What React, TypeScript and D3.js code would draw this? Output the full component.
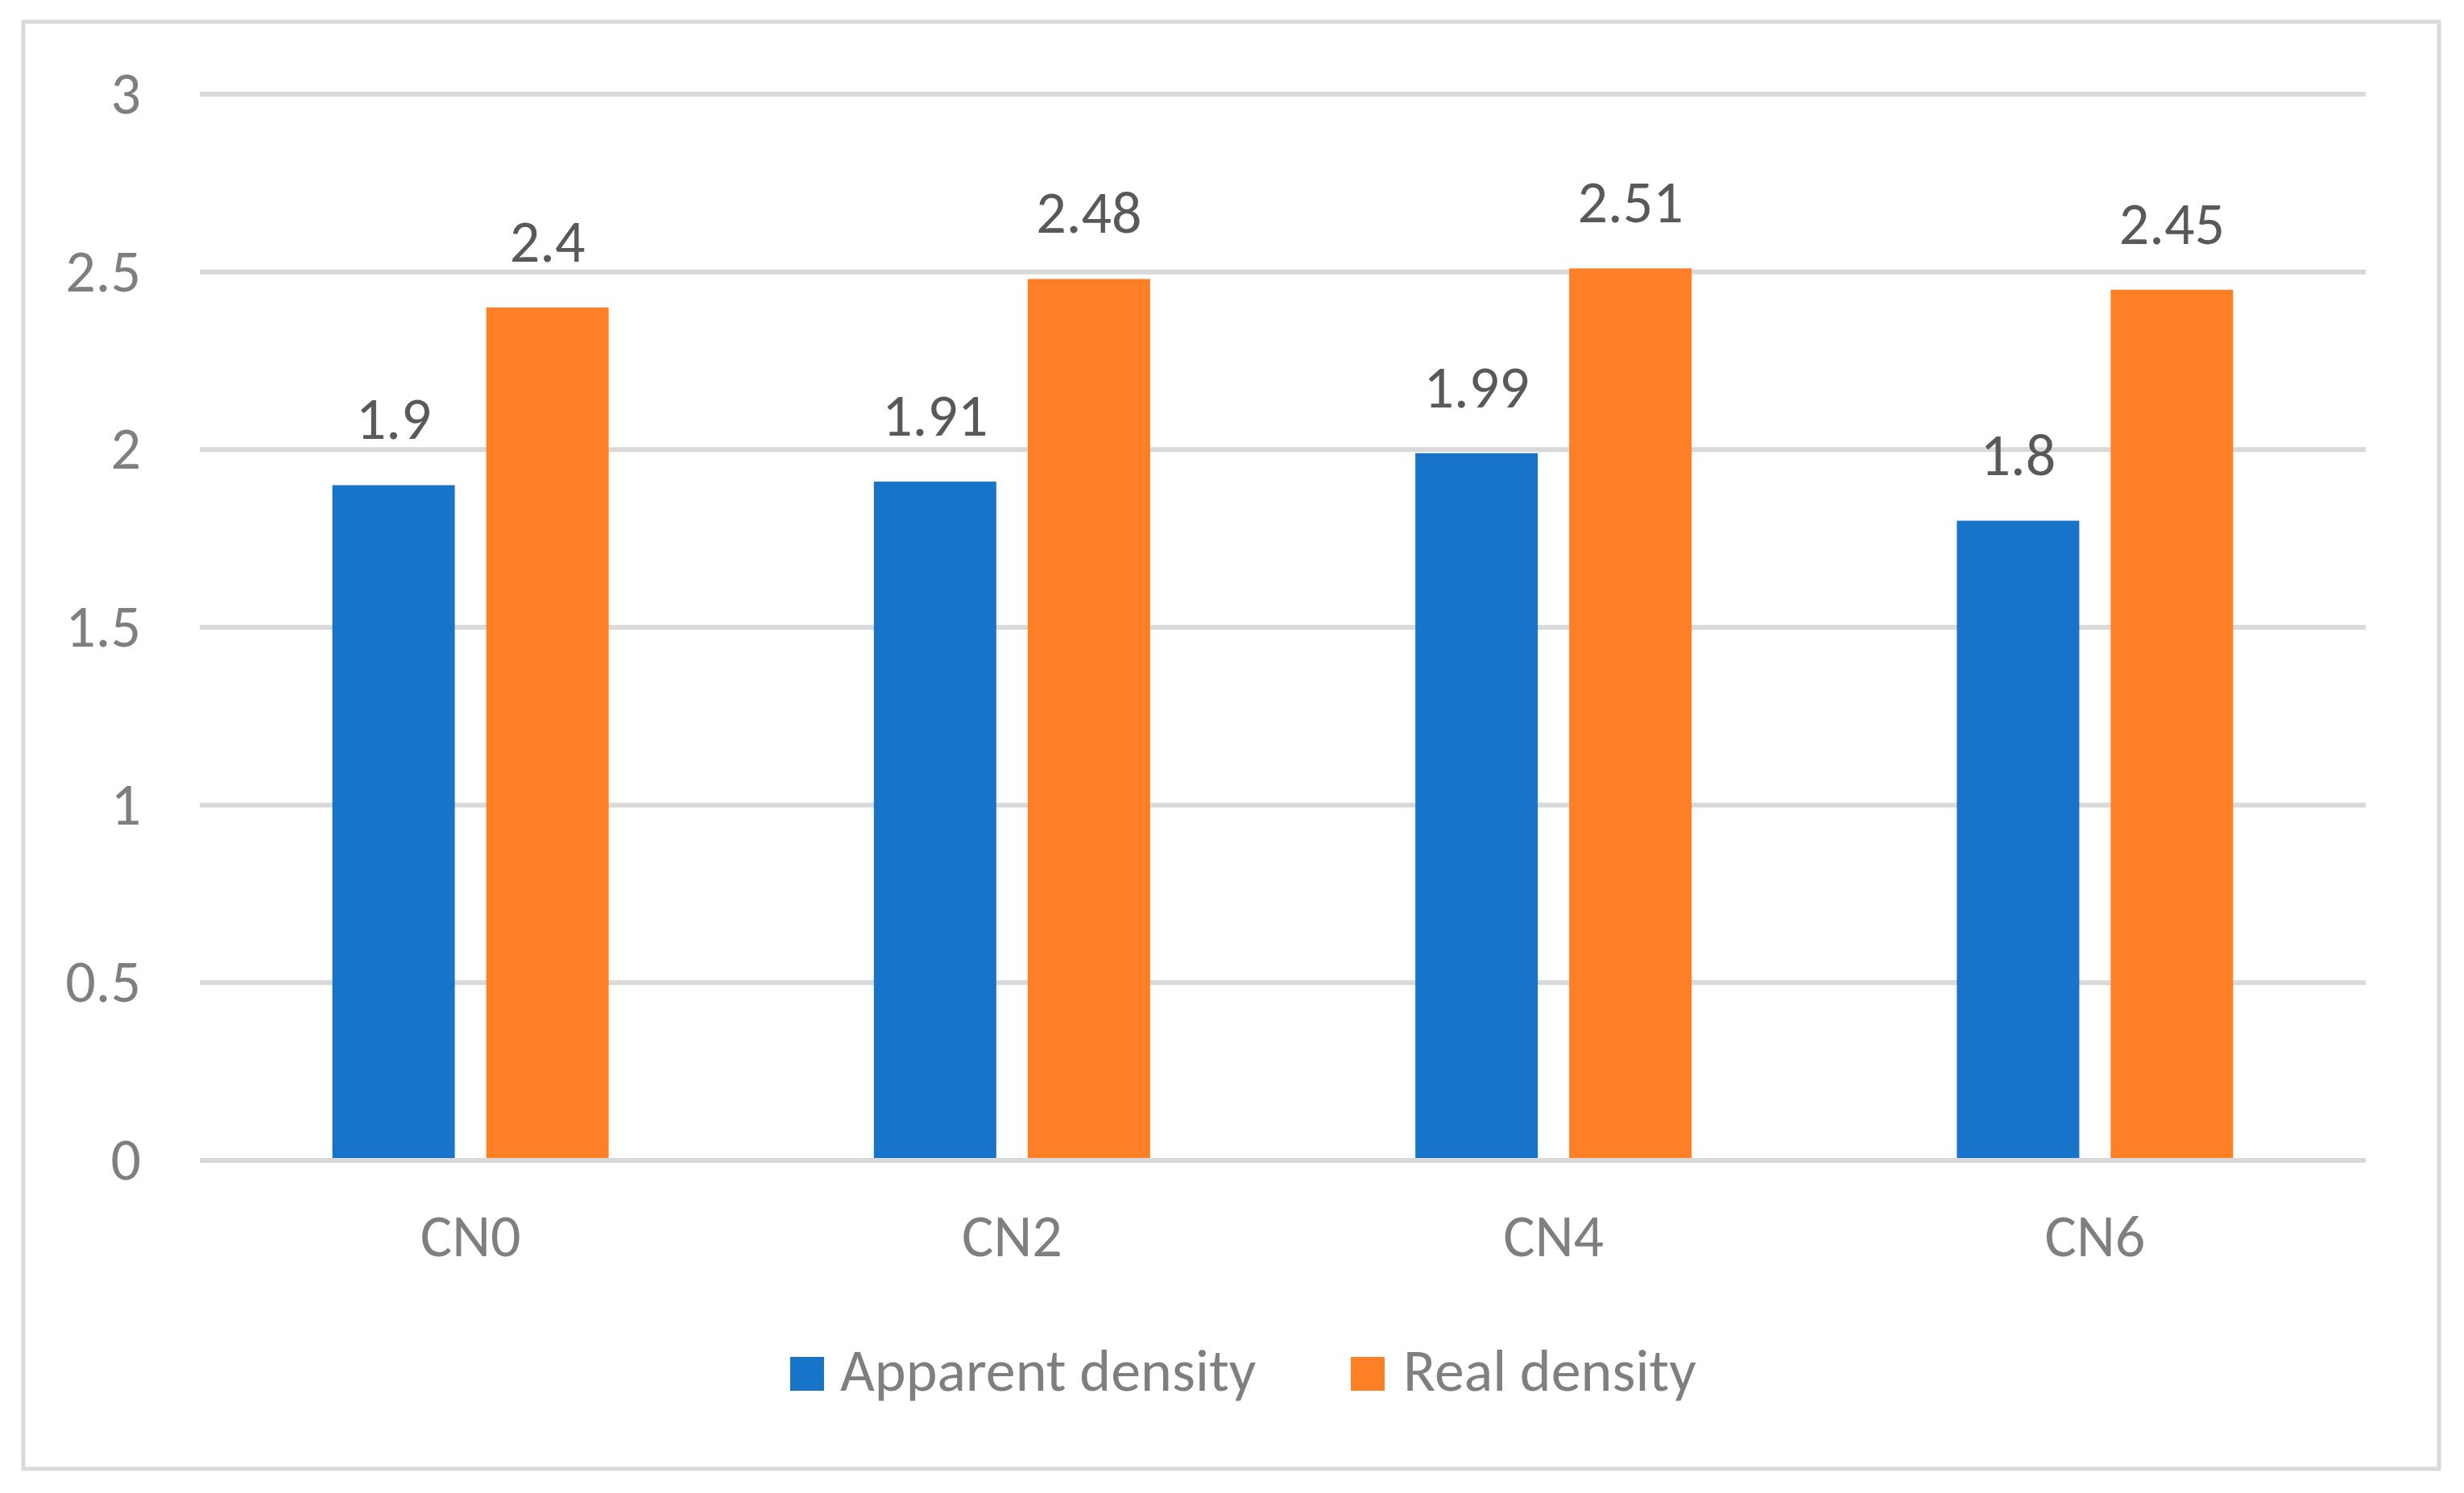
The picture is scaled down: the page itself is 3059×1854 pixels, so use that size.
import React from "react";
import * as d3 from "d3";

const categories = ["CN0", "CN2", "CN4", "CN6"];
const seriesNames = ["Apparent density", "Real density"];
const apparentDensity = [1.9, 1.91, 1.99, 1.8];
const realDensity = [2.4, 2.48, 2.51, 2.45];
const yTicks = [0, 0.5, 1, 1.5, 2, 2.5, 3];
const colors = ["#1874C9", "#FF7F27"];

const W = 3059;
const H = 1854;
const FONT = "Carlito, Lato, sans-serif";
const FS = 74;

export default function App() {
  const x0 = d3.scaleBand<string>().domain(categories).range([248, 2937]).paddingInner(0).paddingOuter(0);
  const y = d3.scaleLinear().domain([0, 3]).range([1441, 117]);
  const series = [apparentDensity, realDensity];
  const barW = 152;
  const gap = 39;
  const x1 = d3
    .scaleOrdinal<number, number>()
    .domain([0, 1])
    .range([-(barW + gap / 2), gap / 2]);

  const legendItems = [
    { sq: 981, tx: 1043 },
    { sq: 1677, tx: 1742 },
  ];

  return (
    <svg
      width={W}
      height={H}
      style={{ position: "absolute", left: 0, top: 0, display: "block", background: "#fff" }}
      fontFamily={FONT}
    >
      <rect x={0} y={0} width={W} height={H} fill="#fff" />
      <rect x={29} y={27} width={2999} height={1797} fill="none" stroke="#D9D9D9" strokeWidth={5} />
      {yTicks.map((t) => (
        <g key={t}>
          <line x1={248} x2={2937} y1={y(t)} y2={y(t)} stroke="#D9D9D9" strokeWidth={6} />
          <text x={175} y={y(t) + 24} textAnchor="end" fontSize={FS} fill="#7F7F7F">
            {String(t)}
          </text>
        </g>
      ))}
      {categories.map((c, i) => {
        const cx = (x0(c) as number) + x0.bandwidth() / 2;
        return (
          <g key={c}>
            {series.map((s, k) => {
              const bx = cx + x1(k);
              const by = y(s[i]);
              return (
                <g key={k}>
                  <rect x={bx} y={by} width={barW} height={y(0) - by - 3} fill={colors[k]} />
                  <text x={bx + barW / 2} y={by - 57} textAnchor="middle" fontSize={FS} fill="#595959">
                    {String(s[i])}
                  </text>
                </g>
              );
            })}
            <text x={cx} y={1560} textAnchor="middle" fontSize={FS} fill="#7F7F7F">
              {c}
            </text>
          </g>
        );
      })}
      {seriesNames.map((n, k) => (
        <g key={n}>
          <rect x={legendItems[k].sq} y={1685} width={42} height={42} fill={colors[k]} />
          <text x={legendItems[k].tx} y={1727} fontSize={FS} fill="#7F7F7F">
            {n}
          </text>
        </g>
      ))}
    </svg>
  );
}
